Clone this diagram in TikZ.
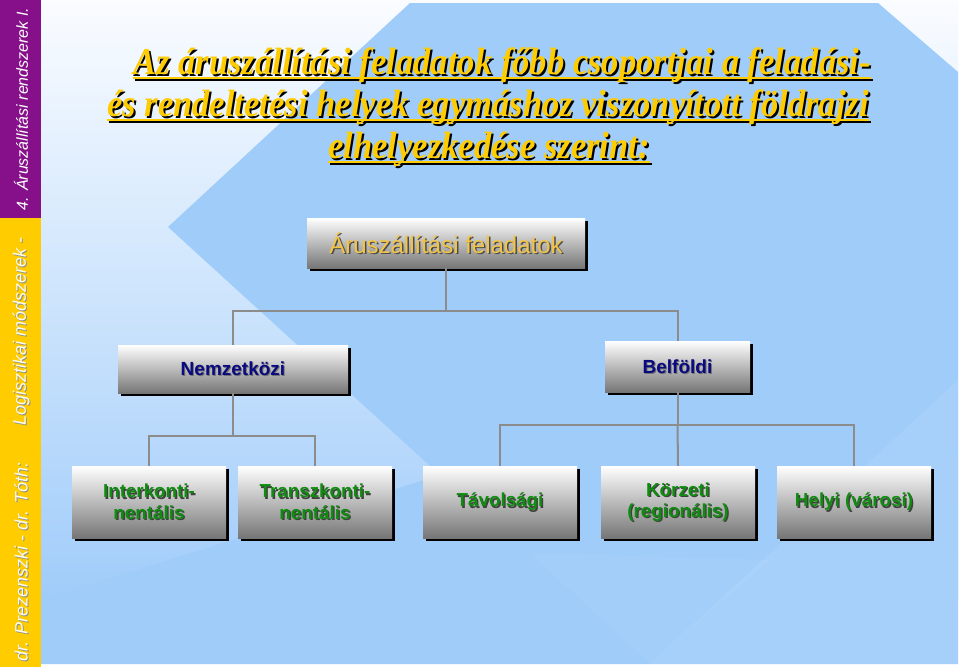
\documentclass[tikz,border=0pt]{standalone}
\usepackage{fontspec}
\setmainfont{Liberation Sans}
\newfontfamily\titlefont{Liberation Serif}
\usetikzlibrary{shadows}
\definecolor{bgblue}{RGB}{160,204,250}
\definecolor{bglight}{RGB}{250,252,255}
\definecolor{sidepurple}{RGB}{133,16,138}
\definecolor{sideyellow}{RGB}{255,204,0}
\definecolor{tyellow}{RGB}{255,204,0}
\definecolor{rootgold}{RGB}{242,196,70}
\definecolor{navy}{RGB}{10,10,128}
\definecolor{lgreen}{RGB}{16,140,16}
\definecolor{connc}{RGB}{140,140,140}
\definecolor{boxgray}{RGB}{118,118,118}
\tikzset{
  boxst/.style={rectangle, inner sep=0pt, draw=none, top color=white, bottom color=boxgray,
    drop shadow={shadow xshift=3pt, shadow yshift=-3pt, fill=black, opacity=1}},
  box3/.style={boxst, minimum width=154pt, minimum height=72pt},
  lvl3/.style={font=\bfseries\fontsize{18.8}{21.5}\selectfont, text=lgreen, align=center, inner sep=0pt},
  lvl3sh/.style={lvl3, text=black!75},
  lvl2/.style={font=\bfseries\fontsize{19}{22}\selectfont, text=navy, inner sep=0pt},
  lvl2sh/.style={lvl2, text=black!55},
  rootlab/.style={font=\fontsize{24}{27}\selectfont, text=rootgold, inner sep=0pt},
  rootlabsh/.style={rootlab, text=black!70},
  tt/.style={font=\titlefont\bfseries\itshape\fontsize{38}{42}\selectfont, inner sep=0pt, anchor=base},
  side/.style={font=\itshape\fontsize{18}{20}\selectfont, rotate=90, inner sep=0pt},
  conn/.style={draw=connc, line width=2pt},
}
\begin{document}
\begin{tikzpicture}[x=1pt,y=-1pt]
\useasboundingbox (0,0) rectangle (960,667);
% background
\fill[white] (0,0) rectangle (960,667);
\shade[top color=bglight, bottom color=bgblue] (41,0) rectangle (958,600);
\fill[bgblue] (410,3) -- (878,3) -- (958,72) -- (958,664) -- (41,664) -- (41,600) -- (440,475) -- (168,227) -- cycle;
\fill[white, opacity=0.07] (958,380) -- (650,664) -- (958,664) -- cycle;
\fill[white, opacity=0.05] (530,553) -- (650,663) -- (770,560) -- cycle;
% sidebar
\fill[sidepurple] (0,0) rectangle (41,218);
\fill[sideyellow] (0,218) rectangle (41,667);
\node[side, text=white, font=\itshape\fontsize{16}{18}\selectfont] (s1) at (21,109) {4. Áruszállítási rendszerek I.};
\node[side, text=black!45] (s2sh) at (22,332) {Logisztikai módszerek -};
\node[side, text=white!92!yellow] (s2) at (21,331) {Logisztikai módszerek -};
\node[side, text=black!45] (s3sh) at (22,563) {dr. Prezenszki - dr. Tóth:};
\node[side, text=white!92!yellow] (s3) at (21,562) {dr. Prezenszki - dr. Tóth:};
% title
\node[tt, text=black] (t1s) at (504,76) {\scalebox{0.91}[1]{Az áruszállítási feladatok főbb csoportjai a feladási-}};
\node[tt, text=black] (t2s) at (490,118) {\scalebox{0.91}[1]{és rendeltetési helyek egymáshoz viszonyított földrajzi}};
\node[tt, text=black] (t3s) at (491,160) {\scalebox{0.91}[1]{elhelyezkedése szerint:}};
\foreach \n in {t1s,t2s,t3s}{
  \draw[black, line width=2.5pt] ([shift={(0,4)}]\n.base west) -- ([shift={(0,4)}]\n.base east);
  \draw[tyellow, line width=2.5pt] ([shift={(-2,2)}]\n.base west) -- ([shift={(-2,2)}]\n.base east);
}
\node[tt, text=tyellow] (t1) at (502,74) {\scalebox{0.91}[1]{Az áruszállítási feladatok főbb csoportjai a feladási-}};
\node[tt, text=tyellow] (t2) at (488,116) {\scalebox{0.91}[1]{és rendeltetési helyek egymáshoz viszonyított földrajzi}};
\node[tt, text=tyellow] (t3) at (489,158) {\scalebox{0.91}[1]{elhelyezkedése szerint:}};
% boxes
\node[boxst, minimum width=278pt, minimum height=50pt] (root) at (446,243) {};
\node[boxst, minimum width=230pt, minimum height=48pt] (nem) at (233,369) {};
\node[boxst, minimum width=145pt, minimum height=51pt] (bel) at (677.5,366.5) {};
\node[box3] (ik) at (149,502) {};
\node[box3] (tk) at (315,502) {};
\node[box3] (tav) at (500,502) {};
\node[box3] (kor) at (678,502) {};
\node[box3] (hely) at (854,502) {};
% connectors
\coordinate (j1) at (446,311);
\coordinate (j2) at (233,436);
\coordinate (j3) at (677.5,425);
\draw[conn] (root.south) -- (j1);
\draw[conn] (nem.north) |- (j1) -| (bel.north);
\draw[conn] (nem.south) -- (j2);
\draw[conn] (ik.north) |- (j2) -| (tk.north);
\draw[conn] (bel.south) -- (j3);
\draw[conn] (tav.north) |- (j3) -| (hely.north);
\draw[conn] (j3) -- (kor.north);
% labels
\node[rootlabsh] (rootls) at ([shift={(1.5,1.5)}]root.center) {Áruszállítási feladatok};
\node[rootlab] (rootl) at (root.center) {Áruszállítási feladatok};
\node[lvl2sh] (nemls) at ([shift={(1,1)}]nem.center) {Nemzetközi};
\node[lvl2] (neml) at (nem.center) {Nemzetközi};
\node[lvl2sh] (bells) at ([shift={(1,1)}]bel.center) {Belföldi};
\node[lvl2] (bell) at (bel.center) {Belföldi};
\node[lvl3sh] (ikls) at ([shift={(1.3,1.3)}]ik.center) {Interkonti-\\nentális};
\node[lvl3] (ikl) at (ik.center) {Interkonti-\\nentális};
\node[lvl3sh] (tkls) at ([shift={(1.3,1.3)}]tk.center) {Transzkonti-\\nentális};
\node[lvl3] (tkl) at (tk.center) {Transzkonti-\\nentális};
\node[lvl3sh] (tavls) at ([shift={(1.3,1.3)}]tav.center) {Távolsági};
\node[lvl3] (tavl) at (tav.center) {Távolsági};
\node[lvl3sh] (korls) at ([shift={(1.3,1.3)}]kor.center) {Körzeti\\(regionális)};
\node[lvl3] (korl) at (kor.center) {Körzeti\\(regionális)};
\node[lvl3sh] (helyls) at ([shift={(1.3,1.3)}]hely.center) {Helyi (városi)};
\node[lvl3] (helyl) at (hely.center) {Helyi (városi)};
\end{tikzpicture}
\end{document}
